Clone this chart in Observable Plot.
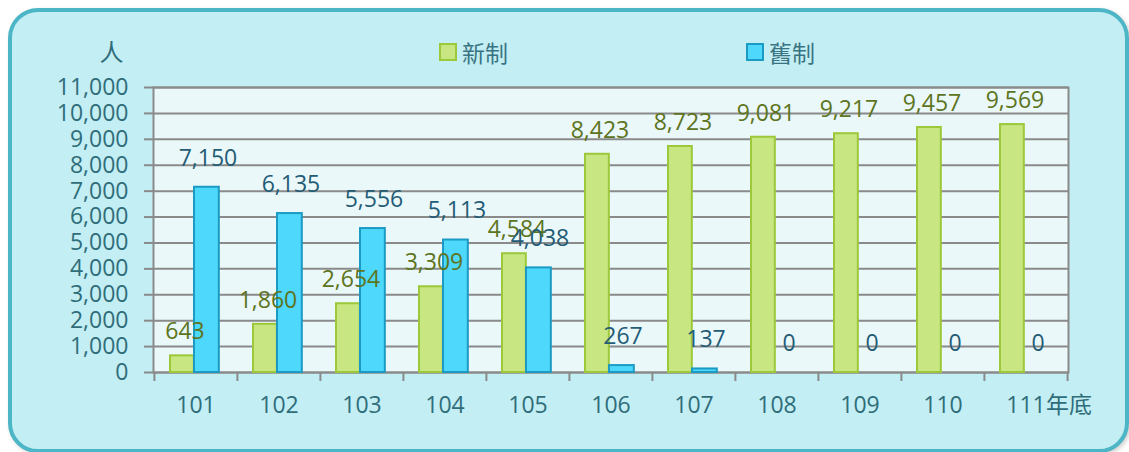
<!DOCTYPE html>
<html>
<head>
<meta charset="utf-8">
<script src="https://cdn.jsdelivr.net/npm/d3@7"></script>
<script src="https://cdn.jsdelivr.net/npm/@observablehq/plot@0.6"></script>
<style>
  html, body { margin: 0; padding: 0; background: #ffffff; }
  #wrap { position: relative; width: 1129px; height: 452px; overflow: hidden;
          font-family: "Open Sans", "Noto Sans CJK TC", sans-serif; }
  #card { position: absolute; left: 8px; top: 8px; width: 1113px; height: 437px;
          border: 4px solid #4db6c6; border-radius: 30px; background: #c3eef4;
          box-shadow: 2px 2px 4px rgba(0,0,0,0.18); }
  #chart { position: absolute; left: 0; top: 0; }
  .legend { position: absolute; top: 35px; display: flex; align-items: center;
            font-size: 23px; color: #3a7482; }
  .legend .sw { width: 14px; height: 14px; border: 2px solid; margin-right: 5px; }
</style>
</head>
<body>
<div id="wrap">
  <div id="card"></div>
  <div id="chart"></div>
  <div class="legend" style="left:439px"><span class="sw" style="background:#c8e682;border-color:#9cc83a"></span>新制</div>
  <div class="legend" style="left:746px"><span class="sw" style="background:#4dd8fc;border-color:#1b9ac4"></span>舊制</div>
</div>
<script>
const years = ["101","102","103","104","105","106","107","108","109","110","111"];
const newSystem = [643, 1860, 2654, 3309, 4584, 8423, 8723, 9081, 9217, 9457, 9569];
const oldSystem = [7150, 6135, 5556, 5113, 4038, 267, 137, 0, 0, 0, 0];
const yTicks = [0,1000,2000,3000,4000,5000,6000,7000,8000,9000,10000,11000];
const yUnit = "人";
const lastSuffix = "年底";

const newData = years.map((y, i) => ({year: y, value: newSystem[i]}));
const oldData = years.map((y, i) => ({year: y, value: oldSystem[i]}));

const W = 1129, H = 452, mL = 153, mR = 61, mT = 87, mB = 80;
const bw = (W - mL - mR) / years.length;
const fmt = d3.format(",");

const chart = Plot.plot({
  width: W, height: H,
  marginLeft: mL, marginRight: mR, marginTop: mT, marginBottom: mB,
  style: {background: "transparent", fontFamily: "'Open Sans', 'Noto Sans CJK TC', sans-serif", fontSize: "23px", overflow: "visible"},
  x: {type: "band", domain: years, padding: 0},
  y: {domain: [0, 11000]},
  marks: [
    Plot.frame({fill: "#eaf8fa", stroke: "none"}),
    Plot.gridY(yTicks, {stroke: "#8a8a8a", strokeOpacity: 1, strokeWidth: 2}),
    Plot.frame({stroke: "#8a8a8a", strokeWidth: 2}),
    Plot.axisY({ticks: yTicks, tickFormat: fmt, tickSize: 9, tickPadding: 16, stroke: "#8a8a8a", strokeWidth: 2, fill: "#2f6d7a", fontSize: 23, label: null}),
    Plot.axisX({tickSize: 0, tickPadding: 24, fill: "#2f6d7a", fontSize: 23, label: null}),
    Plot.ruleX(years, {x: d => d, y1: 0, y2: 0, dx: -bw / 2, insetBottom: -9, stroke: "#8a8a8a", strokeWidth: 2}),
    Plot.ruleX([years[years.length - 1]], {x: d => d, y1: 0, y2: 0, dx: bw / 2, insetBottom: -9, stroke: "#8a8a8a", strokeWidth: 2}),
    Plot.text([lastSuffix], {x: [years[years.length - 1]], frameAnchor: "bottom", lineAnchor: "top", dy: 24, dx: 20, textAnchor: "start", fill: "#2f6d7a", fontSize: 23}),
    Plot.text([yUnit], {frameAnchor: "top-left", textAnchor: "middle", lineAnchor: "middle", dx: -42, dy: -34, fill: "#2f6d7a", fontSize: 24}),
    Plot.barY(newData, {x: "year", y: "value", insetLeft: 16, insetRight: bw - 40, fill: "#c8e682", stroke: "#9cc83a", strokeWidth: 2}),
    Plot.barY(oldData.filter(d => d.value > 0), {x: "year", y: "value", insetLeft: 40, insetRight: bw - 65, fill: "#4dd8fc", stroke: "#1b9ac4", strokeWidth: 2}),
    Plot.text(newData, {x: "year", y: "value", text: d => fmt(d.value), dx: -11, dy: -24, fill: "#5d7420", fontSize: 23}),
    Plot.text(oldData, {x: "year", y: "value", text: d => fmt(d.value), dx: 12, dy: -29, fill: "#245c75", fontSize: 23})
  ]
});
document.getElementById("chart").appendChild(chart);
</script>
</body>
</html>
